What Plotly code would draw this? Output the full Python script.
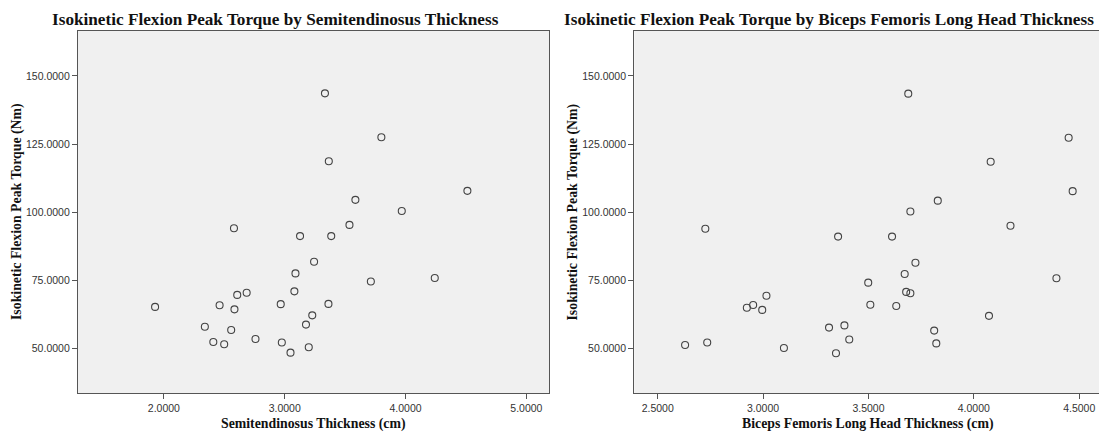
import plotly.graph_objects as go

# ---- data ----
st_thickness = [3.333, 3.800, 3.365, 3.585, 3.969, 4.512, 2.580, 3.536, 3.127, 3.385,
                3.243, 3.089, 4.242, 3.713, 2.685, 2.607, 3.080, 1.927, 2.461, 2.584,
                2.967, 3.362, 3.228, 3.176, 2.339, 2.557, 2.758, 2.409, 2.499, 2.976,
                3.199, 3.048]
st_torque = [143.6, 127.5, 118.7, 104.5, 100.4, 107.8, 94.1, 95.3, 91.2, 91.2,
             81.8, 77.5, 75.8, 74.5, 70.4, 69.6, 70.9, 65.2, 65.8, 64.3,
             66.2, 66.3, 62.1, 58.7, 57.9, 56.7, 53.4, 52.3, 51.5, 52.1,
             50.4, 48.4]

bf_thickness = [3.689, 4.450, 4.080, 4.469, 3.829, 3.699, 2.726, 4.174, 3.356, 3.612,
                3.723, 3.672, 4.392, 3.499, 3.679, 3.699, 3.016, 2.953, 2.923, 2.996,
                3.509, 3.632, 4.072, 3.386, 3.313, 3.812, 3.409, 2.735, 3.822, 2.630,
                3.099, 3.346]
bf_torque = [143.5, 127.3, 118.5, 107.7, 104.2, 100.2, 93.9, 95.0, 91.0, 91.0,
             81.4, 77.3, 75.7, 74.1, 70.7, 70.2, 69.3, 65.9, 64.9, 64.1,
             66.0, 65.5, 61.9, 58.4, 57.6, 56.5, 53.2, 52.1, 51.8, 51.2,
             50.1, 48.2]

titles = ["Isokinetic Flexion Peak Torque by Semitendinosus Thickness",
          "Isokinetic Flexion Peak Torque by Biceps Femoris Long Head Thickness"]
x_titles = ["Semitendinosus Thickness (cm)", "Biceps Femoris Long Head Thickness (cm)"]
y_title = "Isokinetic Flexion Peak Torque (Nm)"

W, H = 1099, 435
LINE = "#555555"
BG = "#f0f0f0"
SERIF = "Liberation Serif, Times New Roman, serif"
SANS = "Liberation Sans, Arial, sans-serif"

fig = go.Figure()
marker = dict(symbol="circle-open", size=7, color="#444444", line=dict(width=1.1, color="#444444"))
fig.add_trace(go.Scatter(x=st_thickness, y=st_torque, mode="markers", marker=marker,
                         xaxis="x", yaxis="y", showlegend=False, hoverinfo="x+y"))
fig.add_trace(go.Scatter(x=bf_thickness, y=bf_torque, mode="markers", marker=marker,
                         xaxis="x2", yaxis="y2", showlegend=False, hoverinfo="x+y"))

def px(x):
    return x / W

def py(y):
    return 1 - y / H

top, bottom = 31, 393.3
ydom = [py(bottom), py(top)]

common_axis = dict(showline=True, linecolor=LINE, linewidth=1.3, ticks="outside",
                   ticklen=5, tickwidth=1, tickcolor=LINE, showgrid=False, zeroline=False,
                   tickfont=dict(family=SANS, size=10.5, color="#333333"),
                   tickformat=".4f")

fig.update_layout(
    width=W, height=H,
    margin=dict(l=0, r=0, t=0, b=0),
    paper_bgcolor="white",
    plot_bgcolor=BG,
    xaxis=dict(domain=[px(78), px(549.3)], range=[1.289, 5.190], dtick=1, tick0=0,
               anchor="y", mirror=True, **common_axis),
    yaxis=dict(domain=ydom, range=[33.47, 166.5], dtick=25, tick0=0,
               anchor="x", mirror=True, **common_axis),
    xaxis2=dict(domain=[px(634.3), 1.0], range=[2.389, 4.594], dtick=0.5, tick0=0,
                anchor="y2", mirror=True, **common_axis),
    yaxis2=dict(domain=ydom, range=[33.47, 166.5], dtick=25, tick0=0,
                anchor="x2", mirror=False, **common_axis),
)

ann = []
title_font = dict(family=SERIF, size=17.2, color="#111111")
lab_font = dict(family=SERIF, size=13.8, color="#111111")
ann.append(dict(text="<b>%s</b>" % titles[0], x=px(275), y=py(19), xref="paper", yref="paper",
                xanchor="center", yanchor="middle", showarrow=False, font=title_font))
ann.append(dict(text="<b>%s</b>" % titles[1], x=px(829), y=py(19), xref="paper", yref="paper",
                xanchor="center", yanchor="middle", showarrow=False, font=title_font))
ann.append(dict(text="<b>%s</b>" % x_titles[0], x=px(313.6), y=py(424), xref="paper", yref="paper",
                xanchor="center", yanchor="middle", showarrow=False, font=lab_font))
ann.append(dict(text="<b>%s</b>" % x_titles[1], x=px(868), y=py(424), xref="paper", yref="paper",
                xanchor="center", yanchor="middle", showarrow=False, font=lab_font))
ann.append(dict(text="<b>%s</b>" % y_title, x=px(17), y=py(212), xref="paper", yref="paper",
                xanchor="center", yanchor="middle", showarrow=False, textangle=-90, font=lab_font))
ann.append(dict(text="<b>%s</b>" % y_title, x=px(572.5), y=py(212), xref="paper", yref="paper",
                xanchor="center", yanchor="middle", showarrow=False, textangle=-90, font=lab_font))
fig.update_layout(annotations=ann)

fig.write_html("out.html", config={"displayModeBar": False},
               post_script="document.body.style.margin='0';document.body.style.overflow='hidden';")
